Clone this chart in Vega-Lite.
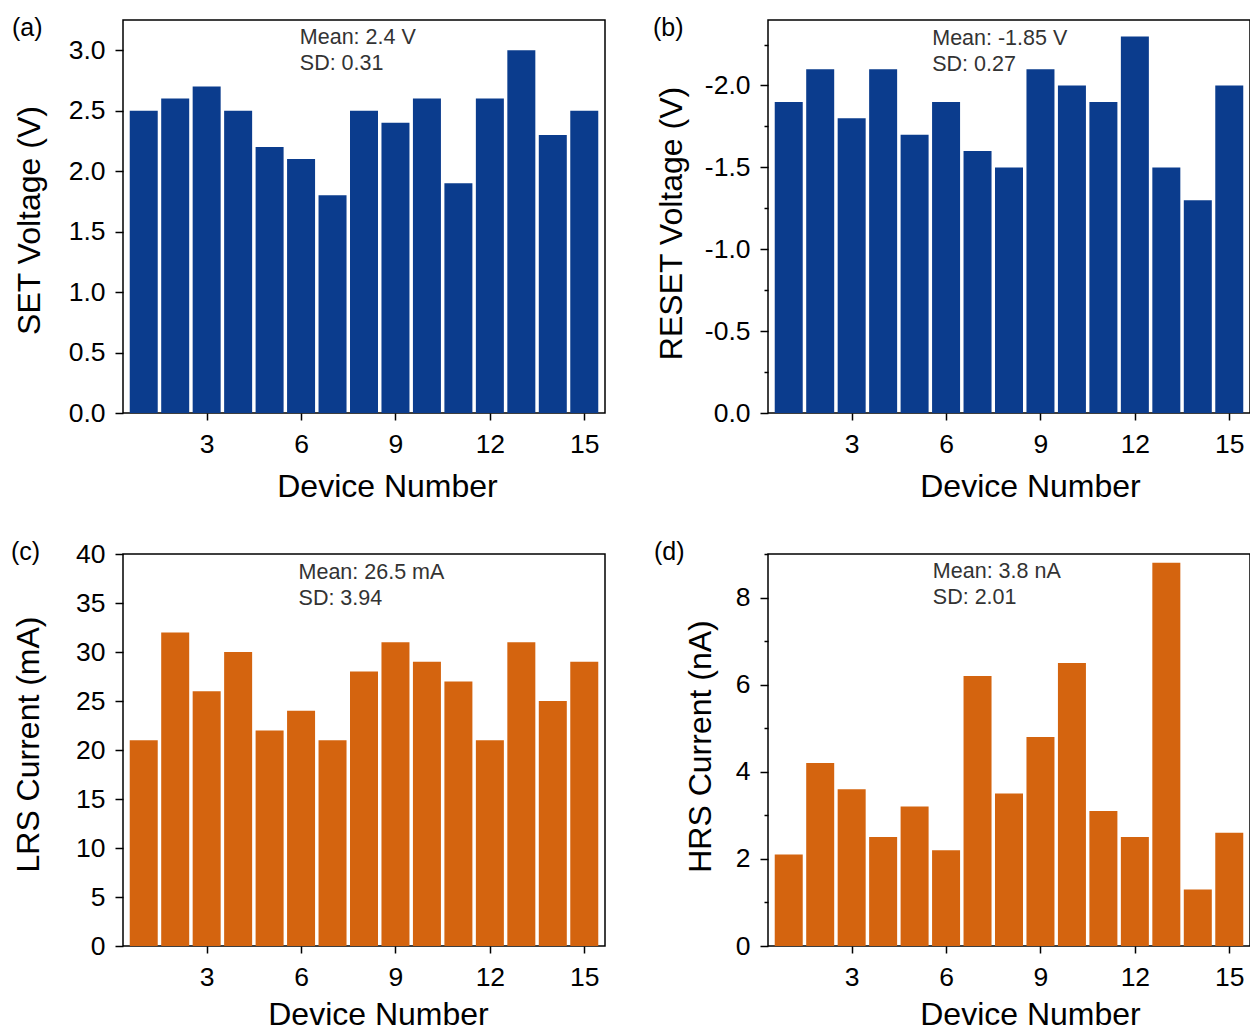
{
  "$schema": "https://vega.github.io/schema/vega-lite/v6.json",
  "background": "white",
  "padding": {"left": 10, "top": 15, "right": 0, "bottom": 0},
  "data": {
    "values": [
      {"device": 1, "set_v": 2.5, "reset_v": -1.9, "lrs_ma": 21, "hrs_na": 2.1},
      {"device": 2, "set_v": 2.6, "reset_v": -2.1, "lrs_ma": 32, "hrs_na": 4.2},
      {"device": 3, "set_v": 2.7, "reset_v": -1.8, "lrs_ma": 26, "hrs_na": 3.6},
      {"device": 4, "set_v": 2.5, "reset_v": -2.1, "lrs_ma": 30, "hrs_na": 2.5},
      {"device": 5, "set_v": 2.2, "reset_v": -1.7, "lrs_ma": 22, "hrs_na": 3.2},
      {"device": 6, "set_v": 2.1, "reset_v": -1.9, "lrs_ma": 24, "hrs_na": 2.2},
      {"device": 7, "set_v": 1.8, "reset_v": -1.6, "lrs_ma": 21, "hrs_na": 6.2},
      {"device": 8, "set_v": 2.5, "reset_v": -1.5, "lrs_ma": 28, "hrs_na": 3.5},
      {"device": 9, "set_v": 2.4, "reset_v": -2.1, "lrs_ma": 31, "hrs_na": 4.8},
      {"device": 10, "set_v": 2.6, "reset_v": -2.0, "lrs_ma": 29, "hrs_na": 6.5},
      {"device": 11, "set_v": 1.9, "reset_v": -1.9, "lrs_ma": 27, "hrs_na": 3.1},
      {"device": 12, "set_v": 2.6, "reset_v": -2.3, "lrs_ma": 21, "hrs_na": 2.5},
      {"device": 13, "set_v": 3.0, "reset_v": -1.5, "lrs_ma": 31, "hrs_na": 8.8},
      {"device": 14, "set_v": 2.3, "reset_v": -1.3, "lrs_ma": 25, "hrs_na": 1.3},
      {"device": 15, "set_v": 2.5, "reset_v": -2.0, "lrs_ma": 29, "hrs_na": 2.6}
    ]
  },
  "columns": 2,
  "spacing": {"row": 36, "column": 46},
  "concat": [
    {
      "title": {"text": "(a)", "dx": -111, "offset": -21},
      "width": 482,
      "height": 393,
      "layer": [
        {
          "mark": {"type": "bar", "width": 28, "color": "#0B3C8D"},
          "encoding": {
            "x": {"field": "device", "type": "quantitative", "scale": {"domain": [0.5, 15.5], "nice": false, "zero": false},
                  "axis": {"title": "Device Number", "values": [3, 6, 9, 12, 15], "titleX": 264, "titleY": 58}},
            "y": {"field": "set_v", "type": "quantitative", "scale": {"domain": [0, 3.25], "nice": false},
                  "axis": {"title": "SET Voltage (V)", "titleX": -77, "titleY": 200,
                           "values": [0, 0.25, 0.5, 0.75, 1, 1.25, 1.5, 1.75, 2, 2.25, 2.5, 2.75, 3, 3.25],
                           "labelExpr": "(datum.value * 2) % 1 == 0 ? format(datum.value, '.1f') : ''",
                           "tickSize": {"condition": {"test": "(datum.value * 2) % 1 != 0", "value": 4}, "value": 8}}}
          }
        },
        {
          "data": {"values": [{}]},
          "mark": {"type": "text", "align": "left", "baseline": "alphabetic", "lineHeight": 26, "fontSize": 21.5, "font": "Liberation Sans", "color": "#333333"},
          "encoding": {
            "x": {"datum": 5.96, "type": "quantitative"},
            "y": {"datum": 3.05, "type": "quantitative"},
            "text": {"value": ["Mean: 2.4 V", "SD: 0.31"]}
          }
        }
      ]
    },
    {
      "title": {"text": "(b)", "dx": -115, "offset": -21},
      "width": 482,
      "height": 393,
      "layer": [
        {
          "mark": {"type": "bar", "width": 28, "color": "#0B3C8D"},
          "encoding": {
            "x": {"field": "device", "type": "quantitative", "scale": {"domain": [0.5, 15.5], "nice": false, "zero": false},
                  "axis": {"title": "Device Number", "values": [3, 6, 9, 12, 15], "titleX": 262, "titleY": 58}},
            "y": {"field": "reset_v", "type": "quantitative", "scale": {"domain": [0, -2.4], "nice": false},
                  "axis": {"title": "RESET Voltage (V)", "titleX": -80, "titleY": 203,
                           "values": [0, -0.25, -0.5, -0.75, -1, -1.25, -1.5, -1.75, -2, -2.25],
                           "labelExpr": "(datum.value * 2) % 1 != 0 ? '' : (datum.value == 0 ? '0.0' : '-' + format(-datum.value, '.1f'))",
                           "tickSize": {"condition": {"test": "(datum.value * 2) % 1 != 0", "value": 4}, "value": 8}}}
          }
        },
        {
          "data": {"values": [{}]},
          "mark": {"type": "text", "align": "left", "baseline": "alphabetic", "lineHeight": 26, "fontSize": 21.5, "font": "Liberation Sans", "color": "#333333"},
          "encoding": {
            "x": {"datum": 5.56, "type": "quantitative"},
            "y": {"datum": -2.25, "type": "quantitative"},
            "text": {"value": ["Mean: -1.85 V", "SD: 0.27"]}
          }
        }
      ]
    },
    {
      "title": {"text": "(c)", "dx": -112, "offset": -24},
      "width": 482,
      "height": 392,
      "layer": [
        {
          "mark": {"type": "bar", "width": 28, "color": "#D4640F"},
          "encoding": {
            "x": {"field": "device", "type": "quantitative", "scale": {"domain": [0.5, 15.5], "nice": false, "zero": false},
                  "axis": {"title": "Device Number", "values": [3, 6, 9, 12, 15], "titleX": 255, "titleY": 53}},
            "y": {"field": "lrs_ma", "type": "quantitative", "scale": {"domain": [0, 40], "nice": false},
                  "axis": {"title": "LRS Current (mA)", "titleX": -78, "titleY": 190,
                           "values": [0, 2.5, 5, 7.5, 10, 12.5, 15, 17.5, 20, 22.5, 25, 27.5, 30, 32.5, 35, 37.5, 40],
                           "labelExpr": "datum.value % 5 == 0 ? format(datum.value, 'd') : ''",
                           "tickSize": {"condition": {"test": "datum.value % 5 != 0", "value": 4}, "value": 8}}}
          }
        },
        {
          "data": {"values": [{}]},
          "mark": {"type": "text", "align": "left", "baseline": "alphabetic", "lineHeight": 26, "fontSize": 21.5, "font": "Liberation Sans", "color": "#333333"},
          "encoding": {
            "x": {"datum": 5.92, "type": "quantitative"},
            "y": {"datum": 37.5, "type": "quantitative"},
            "text": {"value": ["Mean: 26.5 mA", "SD: 3.94"]}
          }
        }
      ]
    },
    {
      "title": {"text": "(d)", "dx": -114, "offset": -12},
      "width": 482,
      "height": 392,
      "layer": [
        {
          "mark": {"type": "bar", "width": 28, "color": "#D4640F"},
          "encoding": {
            "x": {"field": "device", "type": "quantitative", "scale": {"domain": [0.5, 15.5], "nice": false, "zero": false},
                  "axis": {"title": "Device Number", "values": [3, 6, 9, 12, 15], "titleX": 262, "titleY": 53}},
            "y": {"field": "hrs_na", "type": "quantitative", "scale": {"domain": [0, 9], "nice": false},
                  "axis": {"title": "HRS Current (nA)", "titleX": -51, "titleY": 192,
                           "values": [0, 1, 2, 3, 4, 5, 6, 7, 8, 9],
                           "labelExpr": "datum.value % 2 == 0 ? format(datum.value, 'd') : ''",
                           "tickSize": {"condition": {"test": "datum.value % 2 != 0", "value": 4}, "value": 8}}}
          }
        },
        {
          "data": {"values": [{}]},
          "mark": {"type": "text", "align": "left", "baseline": "alphabetic", "lineHeight": 26, "fontSize": 21.5, "font": "Liberation Sans", "color": "#333333"},
          "encoding": {
            "x": {"datum": 5.58, "type": "quantitative"},
            "y": {"datum": 8.44, "type": "quantitative"},
            "text": {"value": ["Mean: 3.8 nA", "SD: 2.01"]}
          }
        }
      ]
    }
  ],
  "config": {
    "view": {"stroke": "#000000", "strokeWidth": 1.5},
    "axis": {
      "domain": false,
      "grid": false,
      "ticks": true,
      "tickColor": "#000000",
      "tickWidth": 1.5,
      "labelFont": "Liberation Sans",
      "labelFontSize": 26.5,
      "labelColor": "#000000",
      "titleFont": "Liberation Sans",
      "titleFontSize": 32,
      "titleFontWeight": "normal",
      "titleColor": "#000000"
    },
    "axisX": {"tickSize": 7, "labelFlush": false, "labelPadding": 11},
    "axisY": {"labelPadding": 10},
    "title": {
      "anchor": "start",
      "frame": "group",
      "font": "Liberation Sans",
      "fontSize": 25,
      "fontWeight": "normal",
      "color": "#000000"
    }
  }
}
